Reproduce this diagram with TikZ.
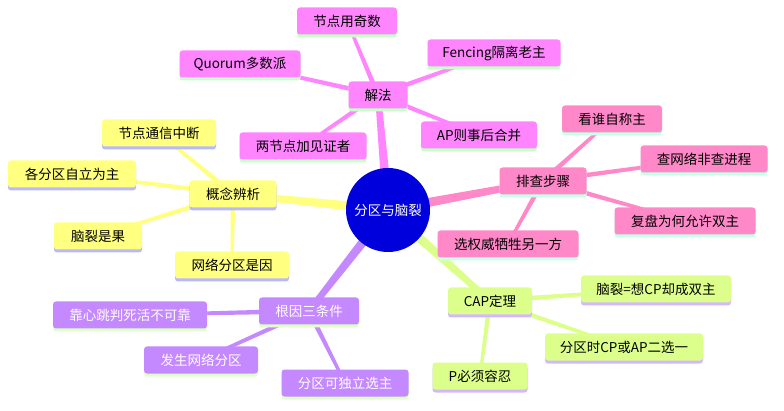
\documentclass[tikz,border=0pt]{standalone}
\usepackage{fontspec}
\setmainfont{Noto Sans CJK SC}
\usetikzlibrary{calc,shadows}
\definecolor{cblue}{HTML}{0000DD}
\definecolor{cmag}{HTML}{FF85FF}
\definecolor{cmagsh}{HTML}{C8FFC8}
\definecolor{cyel}{HTML}{FFFF80}
\definecolor{cyelsh}{HTML}{B8B8FF}
\definecolor{cpink}{HTML}{FF88C8}
\definecolor{cpinksh}{HTML}{C8FFE8}
\definecolor{cpur}{HTML}{C489FF}
\definecolor{cpursh}{HTML}{E0FFC8}
\definecolor{cgrn}{HTML}{DCFF8C}
\definecolor{cgrnsh}{HTML}{D4B8FF}
\newcommand\taperline[5]{%
  \fill[#5] ($(#1)!#3!90:(#2)$) -- ($(#2)!#4!-90:(#1)$) -- ($(#2)!#4!90:(#1)$) -- ($(#1)!#3!-90:(#2)$) -- cycle;}
\tikzset{
  box/.style={rounded corners=3pt, inner xsep=0pt, inner ysep=0pt, minimum height=27pt,
    font=\fontsize{13.5}{15}\selectfont, text=black},
  magbox/.style={box, fill=cmag, general shadow={fill=cmagsh, shadow yshift=-3pt}},
  yelbox/.style={box, fill=cyel, general shadow={fill=cyelsh, shadow yshift=-3pt}},
  pinkbox/.style={box, fill=cpink, general shadow={fill=cpinksh, shadow yshift=-3pt}},
  purbox/.style={box, fill=cpur, text=white, general shadow={fill=cpursh, shadow yshift=-3pt}},
  grnbox/.style={box, fill=cgrn, general shadow={fill=cgrnsh, shadow yshift=-3pt}},
}
\begin{document}
\begin{tikzpicture}[x=1pt,y=-1pt]
\useasboundingbox (0,0) rectangle (784,411);
% coordinates of node centres
\coordinate (c) at (388,210);
\coordinate (jf) at (378,95);
\coordinate (jf1) at (347,21);
\coordinate (jf2) at (240,64);
\coordinate (jf3) at (494,53);
\coordinate (jf4) at (303,146);
\coordinate (jf5) at (479,135);
\coordinate (gn) at (233,194);
\coordinate (gn1) at (159,133);
\coordinate (gn2) at (72,174);
\coordinate (gn3) at (98,236);
\coordinate (gn4) at (232,265);
\coordinate (pc) at (543,181);
\coordinate (pc1) at (612,119);
\coordinate (pc2) at (704,159);
\coordinate (pc3) at (685,221);
\coordinate (pc4) at (508,244);
\coordinate (gy) at (309,311);
\coordinate (gy1) at (130,315);
\coordinate (gy2) at (201,360);
\coordinate (gy3) at (345,383);
\coordinate (cap) at (490,301);
\coordinate (cap1) at (656,289);
\coordinate (cap2) at (624,347);
\coordinate (cap3) at (480,376);
% connectors
\taperline{c}{jf}{5pt}{3pt}{cmag}
\taperline{c}{gn}{5pt}{3pt}{cyel}
\taperline{c}{pc}{5pt}{3pt}{cpink}
\taperline{c}{gy}{5pt}{3pt}{cpur}
\taperline{c}{cap}{5pt}{3pt}{cgrn}
\foreach \k in {1,...,5}{\taperline{jf}{jf\k}{2.5pt}{1.5pt}{cmag}}
\foreach \k in {1,...,4}{\taperline{gn}{gn\k}{2.5pt}{1.5pt}{cyel}}
\foreach \k in {1,...,4}{\taperline{pc}{pc\k}{2.5pt}{1.5pt}{cpink}}
\foreach \k in {1,...,3}{\taperline{gy}{gy\k}{2.5pt}{1.5pt}{cpur}}
\foreach \k in {1,...,3}{\taperline{cap}{cap\k}{2.5pt}{1.5pt}{cgrn}}
% centre
\node[circle, fill=cblue, minimum size=84pt, inner sep=0pt, text=white,
  font=\fontsize{13.5}{15}\selectfont] (nc) at (c) {分区与脑裂};
% 解法
\node[magbox, minimum width=59pt] (njf) at (jf) {解法};
\node[magbox, minimum width=100pt] (njf1) at (jf1) {节点用奇数};
\node[magbox, minimum width=121pt] (njf2) at (jf2) {Quorum多数派};
\node[magbox, minimum width=133pt] (njf3) at (jf3) {Fencing隔离老主};
\node[magbox, minimum width=127pt] (njf4) at (jf4) {两节点加见证者};
\node[magbox, minimum width=116pt] (njf5) at (jf5) {AP则事后合并};
% 概念辨析
\node[yelbox, minimum width=87pt] (ngn) at (gn) {概念辨析};
\node[yelbox, minimum width=114pt] (ngn1) at (gn1) {节点通信中断};
\node[yelbox, minimum width=128pt] (ngn2) at (gn2) {各分区自立为主};
\node[yelbox, minimum width=88pt] (ngn3) at (gn3) {脑裂是果};
\node[yelbox, minimum width=114pt] (ngn4) at (gn4) {网络分区是因};
% 排查步骤
\node[pinkbox, minimum width=87pt] (npc) at (pc) {排查步骤};
\node[pinkbox, minimum width=100pt] (npc1) at (pc1) {看谁自称主};
\node[pinkbox, minimum width=127pt] (npc2) at (pc2) {查网络非查进程};
\node[pinkbox, minimum width=141pt] (npc3) at (pc3) {复盘为何允许双主};
\node[pinkbox, minimum width=141pt] (npc4) at (pc4) {选权威牺牲另一方};
% 根因三条件
\node[purbox, minimum width=100pt] (ngy) at (gy) {根因三条件};
\node[purbox, minimum width=154pt] (ngy1) at (gy1) {靠心跳判死活不可靠};
\node[purbox, minimum width=114pt] (ngy2) at (gy2) {发生网络分区};
\node[purbox, minimum width=127pt] (ngy3) at (gy3) {分区可独立选主};
% CAP定理
\node[grnbox, minimum width=84pt] (ncap) at (cap) {CAP定理};
\node[grnbox, minimum width=150pt] (ncap1) at (cap1) {脑裂=想CP却成双主};
\node[grnbox, minimum width=158pt] (ncap2) at (cap2) {分区时CP或AP二选一};
\node[grnbox, minimum width=95pt] (ncap3) at (cap3) {P必须容忍};
\end{tikzpicture}
\end{document}
